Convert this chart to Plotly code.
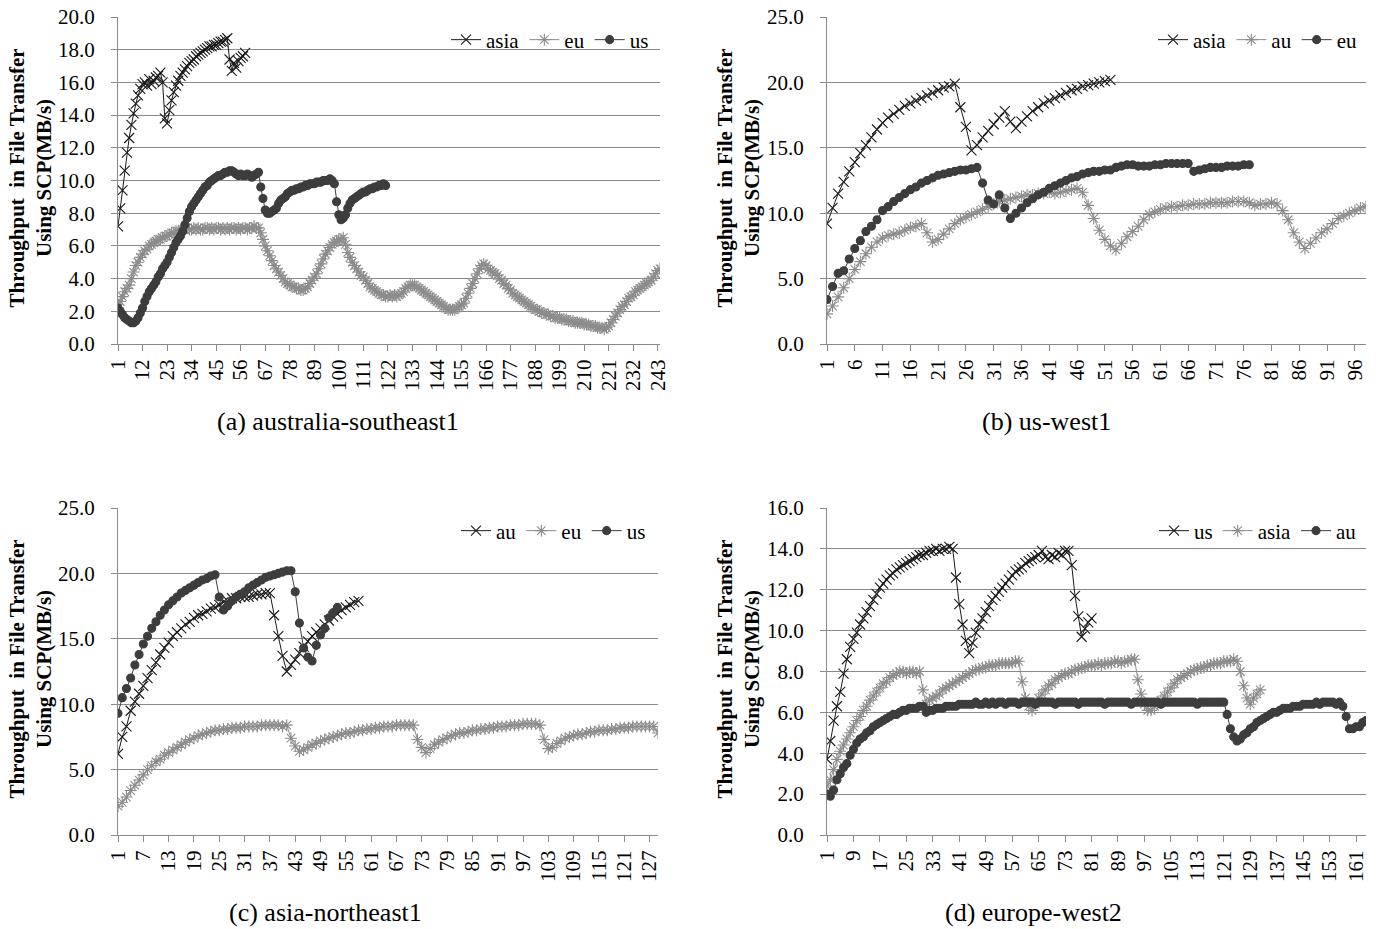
import plotly.graph_objects as go

# ---------------- data ----------------
# (a) australia-southeast1
asia_a = [7.2,8.3,9.4,10.6,11.7,12.6,13.4,14.1,14.7,15.2,
          15.6,15.9,16.0,15.8,16.2,15.9,16.1,16.3,16.4,16.6,
          16.0,13.8,13.5,14.3,14.9,15.4,15.8,16.1,16.4,16.6,
          16.8,17.0,17.2,17.3,17.4,17.6,17.7,17.8,17.9,18.0,
          18.1,18.2,18.2,18.3,18.3,18.4,18.5,18.5,18.6,18.7,
          17.4,16.7,17.2,16.9,17.3,17.5,17.6,17.8]
eu_a = [2.2,2.6,2.9,3.2,3.4,3.6,4.0,4.4,4.8,5.0,
        5.3,5.5,5.7,5.8,6.0,6.1,6.2,6.3,6.4,6.4,
        6.5,6.6,6.6,6.7,6.8,6.8,6.9,6.9,6.9,7.0,
        7.0,7.1,7.0,7.0,7.1,7.0,7.1,7.0,7.0,7.1,
        7.1,7.0,7.1,7.0,7.1,7.1,7.0,7.1,7.0,7.1,
        7.0,7.1,7.1,7.0,7.1,7.0,7.1,7.1,7.0,7.1,
        7.1,7.2,7.1,7.1,6.8,6.4,6.0,5.7,5.4,5.1,
        4.8,4.6,4.4,4.2,4.0,3.8,3.7,3.6,3.5,3.5,
        3.4,3.4,3.3,3.3,3.4,3.5,3.7,3.9,4.1,4.3,
        4.6,4.9,5.2,5.5,5.7,5.9,6.1,6.2,6.3,6.4,
        6.4,6.5,6.1,5.6,5.3,5.0,4.8,4.6,4.4,4.2,
        4.1,3.9,3.7,3.5,3.4,3.3,3.2,3.1,3.0,3.0,
        2.9,2.9,3.0,2.9,3.0,2.9,3.0,3.1,3.2,3.4,
        3.5,3.6,3.6,3.6,3.5,3.4,3.3,3.2,3.1,3.0,
        2.9,2.8,2.7,2.6,2.5,2.4,2.3,2.2,2.1,2.1,
        2.1,2.1,2.2,2.3,2.4,2.5,2.8,3.1,3.4,3.7,
        4.0,4.3,4.6,4.8,4.9,4.8,4.6,4.5,4.4,4.3,
        4.2,4.0,3.9,3.7,3.6,3.4,3.3,3.1,3.0,2.9,
        2.8,2.7,2.6,2.5,2.4,2.3,2.2,2.1,2.1,2.0,
        1.9,1.9,1.8,1.8,1.7,1.7,1.6,1.6,1.6,1.5,
        1.5,1.5,1.4,1.4,1.4,1.3,1.3,1.3,1.3,1.2,
        1.2,1.2,1.1,1.1,1.1,1.0,1.0,1.0,0.9,1.0,
        1.1,1.3,1.5,1.7,1.9,2.1,2.3,2.4,2.6,2.8,
        2.9,3.0,3.2,3.3,3.4,3.5,3.6,3.7,3.8,3.9,
        4.1,4.3,4.5,4.6]
us_a = [2.2,2.0,1.8,1.6,1.5,1.4,1.3,1.3,1.4,1.6,
        1.9,2.2,2.6,2.9,3.2,3.4,3.6,3.8,4.1,4.3,
        4.6,4.8,5.0,5.3,5.6,5.9,6.2,6.4,6.6,6.9,
        7.3,7.7,8.1,8.4,8.6,8.8,9.0,9.2,9.4,9.6,
        9.7,9.9,10.0,10.1,10.2,10.3,10.3,10.4,10.5,10.5,
        10.6,10.6,10.5,10.4,10.3,10.4,10.3,10.3,10.4,10.3,
        10.2,10.3,10.4,10.5,9.6,8.9,8.2,8.0,8.0,8.1,
        8.2,8.3,8.6,8.8,8.9,9.0,9.2,9.3,9.4,9.4,
        9.5,9.5,9.6,9.6,9.7,9.7,9.8,9.8,9.8,9.9,
        9.9,9.9,10.0,10.0,10.0,10.1,10.0,9.8,8.7,7.9,
        7.6,7.7,7.9,8.3,8.6,8.8,8.9,9.0,9.1,9.2,
        9.3,9.3,9.4,9.5,9.5,9.6,9.6,9.7,9.7,9.8,
        9.7]
ticks_a = [1,12,23,34,45,56,67,78,89,100,111,122,133,144,155,166,177,188,199,210,221,232,243]

# (b) us-west1
asia_b = [9.2,10.4,11.5,12.4,13.2,13.9,14.6,15.2,15.8,16.4,
          16.9,17.3,17.6,17.9,18.2,18.4,18.6,18.8,19.0,19.2,
          19.4,19.6,19.7,19.9,18.1,16.6,14.8,15.2,15.8,16.3,
          16.8,17.3,17.8,17.0,16.5,17.0,17.4,17.8,18.1,18.4,
          18.6,18.8,19.0,19.2,19.4,19.5,19.7,19.8,19.9,20.0,
          20.1,20.2]
au_b = [2.3,2.9,3.6,4.3,5.0,5.7,6.3,6.9,7.4,7.8,
        8.1,8.3,8.4,8.5,8.7,8.9,9.0,9.2,8.5,7.8,
        8.0,8.4,8.8,9.2,9.5,9.7,9.9,10.1,10.3,10.5,
        10.7,10.9,11.0,11.1,11.2,11.3,11.4,11.4,11.5,11.5,
        11.6,11.5,11.6,11.7,11.8,11.9,11.6,10.6,9.6,8.7,
        8.0,7.5,7.2,7.7,8.2,8.6,9.0,9.5,9.9,10.1,
        10.3,10.4,10.5,10.5,10.6,10.6,10.7,10.7,10.7,10.8,
        10.8,10.8,10.8,10.9,10.9,10.9,10.8,10.6,10.7,10.7,
        10.8,10.7,10.2,9.5,8.5,7.8,7.3,7.7,8.1,8.5,
        8.8,9.2,9.6,9.8,10.0,10.2,10.4,10.5]
eu_b = [3.4,4.4,5.4,5.6,6.5,7.3,7.9,8.6,9.0,9.5,
        10.2,10.5,10.9,11.2,11.5,11.8,12.0,12.3,12.5,12.7,
        12.9,13.0,13.1,13.2,13.3,13.3,13.4,13.5,12.3,11.0,
        10.7,11.4,10.4,9.6,10.0,10.4,10.8,11.1,11.4,11.6,
        11.9,12.1,12.3,12.5,12.7,12.8,13.0,13.1,13.2,13.2,
        13.3,13.3,13.5,13.6,13.7,13.7,13.6,13.6,13.6,13.7,
        13.7,13.8,13.8,13.8,13.8,13.8,13.2,13.3,13.4,13.5,
        13.5,13.5,13.6,13.6,13.6,13.7,13.7]
ticks_b = [1,6,11,16,21,26,31,36,41,46,51,56,61,66,71,76,81,86,91,96]

# (c) asia-northeast1
au_c = [6.2,7.5,8.3,9.5,10.2,10.8,11.4,12.0,12.6,13.2,
        13.8,14.3,14.7,15.2,15.5,15.8,16.1,16.3,16.6,16.8,
        16.9,17.1,17.3,17.4,17.6,17.8,17.9,18.1,18.1,18.2,
        18.2,18.2,18.3,18.4,18.4,18.5,18.5,16.8,15.2,13.7,
        12.5,13.0,13.4,13.9,14.4,14.8,15.2,15.5,15.8,16.1,
        16.4,16.7,16.9,17.2,17.4,17.6,17.8,17.9]
eu_c = [2.2,2.5,2.9,3.4,3.8,4.2,4.6,5.0,5.3,5.6,
        5.8,6.1,6.3,6.5,6.7,6.9,7.1,7.3,7.4,7.6,
        7.7,7.8,7.9,8.0,8.0,8.1,8.1,8.2,8.2,8.2,
        8.3,8.3,8.3,8.3,8.4,8.4,8.4,8.4,8.4,8.3,
        8.4,7.4,6.8,6.4,6.5,6.7,6.9,7.0,7.2,7.3,
        7.4,7.5,7.6,7.7,7.8,7.8,7.9,8.0,8.0,8.1,
        8.1,8.2,8.2,8.3,8.3,8.3,8.4,8.4,8.4,8.4,
        8.4,7.3,6.7,6.3,6.6,6.9,7.1,7.3,7.4,7.6,
        7.7,7.8,7.8,7.9,8.0,8.0,8.1,8.1,8.2,8.2,
        8.3,8.3,8.3,8.4,8.4,8.4,8.5,8.5,8.5,8.5,
        8.4,7.3,6.6,6.7,7.0,7.2,7.4,7.5,7.6,7.7,
        7.7,7.8,7.9,7.9,8.0,8.0,8.0,8.1,8.1,8.2,
        8.2,8.2,8.3,8.3,8.3,8.3,8.3,8.3,7.8]
us_c = [9.3,10.5,11.2,12.0,13.0,13.8,14.6,15.2,15.8,16.3,
        16.8,17.2,17.6,17.9,18.2,18.5,18.7,18.9,19.1,19.3,
        19.5,19.6,19.8,19.9,18.2,17.2,17.5,17.9,18.2,18.4,
        18.6,18.9,19.1,19.3,19.5,19.7,19.8,19.9,20.0,20.1,
        20.2,20.2,18.6,16.2,14.3,13.6,13.3,14.5,15.3,15.8,
        16.6,17.0,17.4]
ticks_c = [1,7,13,19,25,31,37,43,49,55,61,67,73,79,85,91,97,103,109,115,121,127]

# (d) europe-west2
us_d = [3.7,4.6,5.6,6.3,7.0,7.9,8.6,9.2,9.6,9.9,
        10.3,10.6,10.9,11.2,11.5,11.8,12.1,12.3,12.5,12.7,
        12.8,13.0,13.1,13.2,13.3,13.4,13.5,13.6,13.7,13.7,
        13.8,13.9,13.9,14.0,13.9,14.0,14.0,14.1,14.0,12.6,
        11.3,10.3,9.5,8.9,9.4,9.9,10.3,10.6,10.9,11.2,
        11.5,11.7,11.9,12.1,12.3,12.5,12.7,12.9,13.0,13.1,
        13.3,13.4,13.5,13.6,13.7,13.9,13.6,13.5,13.7,13.6,
        13.8,13.7,13.9,13.9,13.2,11.7,10.7,9.7,10.1,10.4,
        10.6]
asia_d = [2.4,2.7,3.2,3.7,4.1,4.4,4.7,5.0,5.3,5.6,
          5.8,6.1,6.3,6.6,6.8,7.0,7.2,7.4,7.5,7.7,
          7.8,7.9,8.0,8.0,7.9,8.0,8.0,7.9,8.0,7.1,
          6.4,6.6,6.7,6.8,6.9,7.1,7.2,7.3,7.4,7.5,
          7.6,7.7,7.8,7.9,8.0,8.1,8.1,8.2,8.2,8.3,
          8.3,8.3,8.4,8.4,8.4,8.4,8.4,8.5,8.5,7.5,
          6.7,6.3,6.1,6.4,6.7,6.9,7.1,7.3,7.4,7.6,
          7.7,7.8,7.9,7.9,8.0,8.1,8.1,8.2,8.2,8.3,
          8.3,8.3,8.4,8.3,8.4,8.4,8.4,8.5,8.5,8.4,
          8.5,8.5,8.6,8.6,7.6,6.9,6.4,6.1,6.1,6.3,
          6.4,6.6,6.8,7.0,7.2,7.4,7.6,7.7,7.8,7.9,
          8.0,8.1,8.1,8.2,8.2,8.3,8.3,8.4,8.4,8.4,
          8.5,8.5,8.5,8.6,8.5,8.0,7.3,6.7,6.4,6.7,
          6.9,7.1]
au_d = [2.0,1.9,2.2,2.7,3.0,3.3,3.5,3.9,4.2,4.5,
        4.7,4.8,5.0,5.1,5.3,5.4,5.5,5.6,5.7,5.8,
        5.9,5.9,6.0,6.1,6.1,6.2,6.2,6.2,6.3,6.3,
        6.0,6.1,6.1,6.2,6.2,6.2,6.3,6.3,6.3,6.3,
        6.4,6.4,6.4,6.4,6.4,6.5,6.4,6.4,6.5,6.4,
        6.5,6.4,6.5,6.5,6.4,6.5,6.5,6.5,6.4,6.5,
        6.5,6.5,6.5,6.4,6.5,6.5,6.5,6.5,6.5,6.4,
        6.5,6.5,6.5,6.5,6.5,6.5,6.4,6.5,6.5,6.5,
        6.5,6.5,6.5,6.5,6.4,6.5,6.5,6.5,6.5,6.5,
        6.5,6.5,6.4,6.5,6.5,6.5,6.5,6.5,6.5,6.5,
        6.5,6.4,6.5,6.5,6.5,6.5,6.5,6.5,6.5,6.5,
        6.5,6.5,6.4,6.5,6.5,6.5,6.5,6.5,6.5,6.5,
        6.5,5.9,5.2,4.8,4.6,4.7,4.9,5.0,5.2,5.3,
        5.5,5.6,5.7,5.8,5.9,6.0,6.0,6.1,6.2,6.2,
        6.2,6.3,6.3,6.3,6.4,6.4,6.4,6.4,6.5,6.4,
        6.5,6.5,6.5,6.5,6.4,6.5,6.3,5.8,5.2,5.2,
        5.3,5.3,5.5,5.6]
ticks_d = [1,9,17,25,33,41,49,57,65,73,81,89,97,105,113,121,129,137,145,153,161]

y_title = "Throughput\u00a0 in File Transfer<br>Using SCP(MB/s)"

# ---------------- layout helpers ----------------
W, H = 1379, 929
def px(x): return x / W
def py(y): return 1 - y / H

FONT = "Liberation Serif, Times New Roman, serif"
GRID = "#8a8a8a"

styles = [
    dict(color="#1a1a1a", symbol="x-thin-open", size=10),
    dict(color="#8c8c8c", symbol="asterisk-open", size=10),
    dict(color="#3d3d3d", symbol="circle", size=8),
]

panels = [
    dict(series=[("asia", asia_a), ("eu", eu_a), ("us", us_a)], ticks=ticks_a, n=len(eu_a),
         ymax=20, dtick=2, box=(118, 660, 17, 344), leg=(654, 40),
         cap="(a) australia-southeast1", capxy=(338, 421), tx=30),
    dict(series=[("asia", asia_b), ("au", au_b), ("eu", eu_b)], ticks=ticks_b, n=len(au_b),
         ymax=25, dtick=5, box=(827, 1366, 17, 344), leg=(1362, 40),
         cap="(b) us-west1", capxy=(1046, 421), tx=738),
    dict(series=[("au", au_c), ("eu", eu_c), ("us", us_c)], ticks=ticks_c, n=len(eu_c),
         ymax=25, dtick=5, box=(118, 658, 508, 835), leg=(651, 531),
         cap="(c) asia-northeast1", capxy=(325, 912), tx=30),
    dict(series=[("us", us_d), ("asia", asia_d), ("au", au_d)], ticks=ticks_d, n=len(au_d),
         ymax=16, dtick=2, box=(827, 1366, 508, 835), leg=(1362, 531),
         cap="(d) europe-west2", capxy=(1033, 912), tx=738),
]

fig = go.Figure()
annotations = []
layout = dict(width=W, height=H, margin=dict(l=0, r=0, t=0, b=0, autoexpand=False),
              paper_bgcolor="white", plot_bgcolor="white",
              font=dict(family=FONT, size=21, color="black"))

for k, p in enumerate(panels):
    sfx = "" if k == 0 else str(k + 1)
    xname, yname = "x" + sfx, "y" + sfx
    legname = "legend" + sfx
    for j, (name, vals) in enumerate(p["series"]):
        st = styles[j]
        fig.add_trace(go.Scatter(
            x=list(range(1, len(vals) + 1)), y=vals, name=name, mode="lines+markers",
            xaxis=xname, yaxis=yname, legend=legname,
            line=dict(color=st["color"], width=1),
            marker=dict(symbol=st["symbol"], size=st["size"], color=st["color"],
                        line=dict(color=st["color"], width=1.1)),
        ))
    x0, x1, y0, y1 = p["box"]
    layout["xaxis" + sfx] = dict(
        domain=[px(x0), px(x1)], anchor=yname, range=[1, p["n"]], automargin=False,
        tickmode="array", tickvals=p["ticks"], ticktext=[str(t) for t in p["ticks"]],
        tickangle=-90, ticks="outside", ticklen=6, tickcolor=GRID,
        showline=True, linecolor=GRID, linewidth=1, showgrid=False, zeroline=False,
        tickfont=dict(family=FONT, size=21, color="black"),
    )
    layout["yaxis" + sfx] = dict(
        domain=[py(y1), py(y0)], anchor=xname, range=[0, p["ymax"]], automargin=False,
        dtick=p["dtick"], tick0=0, tickformat=".1f",
        ticks="outside", ticklen=6, tickcolor=GRID, ticklabelstandoff=12,
        showline=True, linecolor=GRID, linewidth=1,
        showgrid=True, gridcolor=GRID, gridwidth=1, zeroline=False,
        tickfont=dict(family=FONT, size=21, color="black"),
    )
    lx, ly = p["leg"]
    layout[legname] = dict(
        orientation="h", x=px(lx), y=py(ly), xanchor="right", yanchor="middle",
        bgcolor="rgba(0,0,0,0)", font=dict(family=FONT, size=21, color="black"),
        itemwidth=30, traceorder="normal",
    )
    cx, cy = p["capxy"]
    annotations.append(dict(text=p["cap"], x=px(cx), y=py(cy), xref="paper", yref="paper",
                            showarrow=False, xanchor="center", yanchor="middle",
                            font=dict(family=FONT, size=26, color="black")))
    annotations.append(dict(text=y_title, x=px(p["tx"]), y=py((y0 + y1) / 2 - 2),
                            xref="paper", yref="paper", showarrow=False, textangle=-90,
                            xanchor="center", yanchor="middle",
                            font=dict(family=FONT, size=21, color="black", weight="bold")))

layout["annotations"] = annotations
layout["showlegend"] = True
fig.update_layout(**layout)
fig.write_html("out.html", config={"displayModeBar": False},
               post_script="document.body.style.margin='0';document.body.style.overflow='hidden';")
